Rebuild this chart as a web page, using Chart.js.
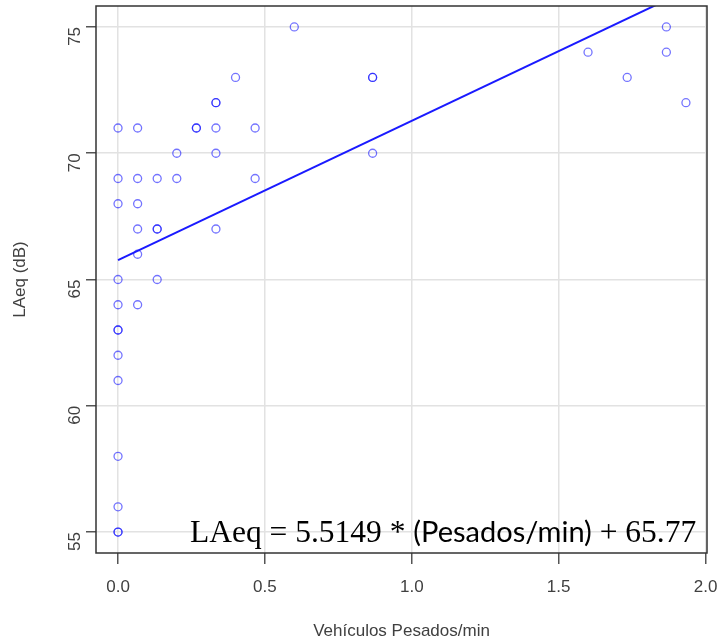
<!DOCTYPE html>
<html>
<head>
<meta charset="utf-8">
<script src="https://cdn.jsdelivr.net/npm/chart.js@4.4.1/dist/chart.umd.min.js"></script>
<style>
  html, body { margin: 0; padding: 0; background: #ffffff; }
  #wrap { width: 720px; height: 643px; }
</style>
</head>
<body>
<div id="wrap"><canvas id="laeqChart" width="720" height="643"></canvas></div>
<script>
/*
----------------------
Data
----------------------
*/
var pesados_x = [
  0, 0, 0, 0, 0, 0, 0, 0, 0, 0, 0, 0, 0,
  0.0667, 0.0667, 0.0667, 0.0667, 0.0667, 0.0667,
  0.1333, 0.1333, 0.1333, 0.1333,
  0.2, 0.2,
  0.2667, 0.2667,
  0.3333, 0.3333, 0.3333, 0.3333, 0.3333,
  0.4,
  0.4667, 0.4667,
  0.6,
  0.8667, 0.8667, 0.8667,
  1.6, 1.7333, 1.8667, 1.8667, 1.9333
];
var laeq_y = [
  71, 69, 68, 65, 64, 63, 63, 62, 61, 58, 56, 55, 55,
  71, 69, 68, 67, 66, 64,
  69, 67, 67, 65,
  70, 69,
  71, 71,
  72, 72, 71, 70, 67,
  73,
  71, 69,
  75,
  73, 73, 70,
  74, 73, 75, 74, 72
];

var fit_x = [0, 2.0];
var fit_y = [65.77, 76.80];

var x_ticks = [0, 0.5, 1.0, 1.5, 2.0];
var y_ticks = [55, 60, 65, 70, 75];

var x_range = [-0.075, 2.005];
var y_range = [54.17, 75.83];

var x_title = "Vehículos Pesados/min";
var y_title = "LAeq (dB)";
var eq_parts = [
  { text: "LAeq = 5.5149 * ", serif: true },
  { text: "(Pesados/min)", serif: false },
  { text: " + 65.77", serif: true }
];

/*
----------------------
Plugin: plot frame and the equation text
----------------------
*/
var frame_plugin = {
  id: "frame_plugin",
  afterDraw: function (chart) {
    var ctx = chart.ctx;
    var area = chart.chartArea;
    ctx.save();
    ctx.strokeStyle = "#333333";
    ctx.lineWidth = 1.5;
    ctx.strokeRect(area.left, area.top, area.right - area.left, area.bottom - area.top);

    // equation, mixed serif / sans like the original
    var serif_font = "31.5px 'Liberation Serif', 'Times New Roman', serif";
    var sans_font = "29px Lato, 'Open Sans', sans-serif";
    var x = 190;
    var y = 542;
    ctx.fillStyle = "#000000";
    ctx.textBaseline = "alphabetic";
    ctx.textAlign = "left";
    eq_parts.forEach(function (part) {
      ctx.font = part.serif ? serif_font : sans_font;
      ctx.fillText(part.text, x, y);
      x += ctx.measureText(part.text).width;
    });
    ctx.restore();
  }
};

var scatter_points = pesados_x.map(function (v, i) {
  return { x: v, y: laeq_y[i] };
});
var fit_points = fit_x.map(function (v, i) {
  return { x: v, y: fit_y[i] };
});

var label_font = { family: "'Liberation Sans', Arial, sans-serif", size: 17 };

new Chart(document.getElementById("laeqChart").getContext("2d"), {
  type: "scatter",
  data: {
    datasets: [
      {
        label: "fit",
        type: "line",
        data: fit_points,
        borderColor: "#1a1aff",
        borderWidth: 2,
        pointRadius: 0,
        fill: false,
        order: 0
      },
      {
        label: "LAeq",
        data: scatter_points,
        pointStyle: "circle",
        pointRadius: 4,
        pointBorderWidth: 1.3,
        pointBackgroundColor: "rgba(0,0,0,0)",
        pointBorderColor: "rgba(0,0,255,0.55)",
        order: 1
      }
    ]
  },
  options: {
    responsive: false,
    animation: false,
    layout: { padding: { top: 6, right: 13, left: 0, bottom: 0 } },
    plugins: {
      legend: { display: false },
      tooltip: { enabled: false }
    },
    scales: {
      x: {
        type: "linear",
        min: x_range[0],
        max: x_range[1],
        afterBuildTicks: function (scale) {
          scale.ticks = x_ticks.map(function (v) { return { value: v }; });
        },
        afterFit: function (scale) {
          scale.height = 90;
          scale.paddingLeft = 0;
          scale.paddingRight = 0;
        },
        grid: {
          color: "#e2e2e2",
          lineWidth: 1.5,
          tickColor: "#555555",
          tickLength: 11,
          drawOnChartArea: true
        },
        border: { display: false },
        ticks: {
          font: label_font,
          color: "#404040",
          padding: 13,
          maxRotation: 0,
          callback: function (value) { return Number(value).toFixed(1); }
        },
        title: {
          display: true,
          text: x_title,
          font: label_font,
          color: "#404040",
          padding: { top: 0, bottom: 1 }
        }
      },
      y: {
        type: "linear",
        min: y_range[0],
        max: y_range[1],
        afterBuildTicks: function (scale) {
          scale.ticks = y_ticks.map(function (v) { return { value: v }; });
        },
        afterFit: function (scale) {
          scale.width = 96;
          scale.paddingTop = 0;
          scale.paddingBottom = 0;
        },
        grid: {
          color: "#e2e2e2",
          lineWidth: 1.5,
          tickColor: "#555555",
          tickLength: 10
        },
        border: { display: false },
        ticks: {
          font: label_font,
          color: "#404040",
          padding: 11,
          minRotation: 90,
          maxRotation: 90,
          callback: function (value) { return String(value); }
        },
        title: {
          display: true,
          text: y_title,
          font: label_font,
          color: "#404040",
          padding: { top: 10, bottom: 0 }
        }
      }
    }
  },
  plugins: [frame_plugin]
});
</script>
</body>
</html>
